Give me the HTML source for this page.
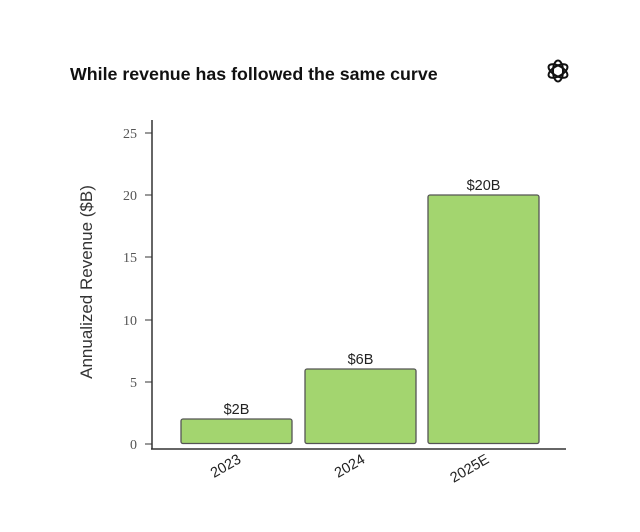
<!DOCTYPE html>
<html><head><meta charset="utf-8"><style>
html,body{margin:0;padding:0;background:#fff;}
</style></head><body>
<svg width="640" height="527" xmlns="http://www.w3.org/2000/svg">
<rect width="640" height="527" fill="#fff"/>
<text x="70" y="80" font-family="Liberation Sans, sans-serif" font-weight="bold" font-size="17.8" fill="#111">While revenue has followed the same curve</text>
<g transform="translate(558,71)" fill="none" stroke="#111" stroke-width="2">
<ellipse rx="5" ry="10.5" transform="rotate(0)"/>
<ellipse rx="5" ry="10.5" transform="rotate(60)"/>
<ellipse rx="5" ry="10.5" transform="rotate(120)"/>
</g>
<g stroke="#333" stroke-width="1.5">
<line x1="152" y1="120" x2="152" y2="449"/>
<line x1="151" y1="449" x2="566" y2="449"/>
</g>
<g stroke="#333" stroke-width="1">
<line x1="145" y1="133" x2="152" y2="133"/>
<line x1="145" y1="195" x2="152" y2="195"/>
<line x1="145" y1="257" x2="152" y2="257"/>
<line x1="145" y1="320" x2="152" y2="320"/>
<line x1="145" y1="382" x2="152" y2="382"/>
<line x1="145" y1="444" x2="152" y2="444"/>
</g>
<g font-family="Liberation Serif, serif" font-size="14" fill="#555" text-anchor="end">
<text x="137" y="138">25</text>
<text x="137" y="200">20</text>
<text x="137" y="262">15</text>
<text x="137" y="325">10</text>
<text x="137" y="387">5</text>
<text x="137" y="449">0</text>
</g>
<text transform="translate(92,282) rotate(-90)" text-anchor="middle" font-family="Liberation Sans, sans-serif" font-size="17" fill="#333">Annualized Revenue ($B)</text>
<g fill="#a3d56f" stroke="#555" stroke-width="1.3">
<rect x="181" y="419" width="111" height="24.5" rx="2"/>
<rect x="305" y="369" width="111" height="74.5" rx="2"/>
<rect x="428" y="195" width="111" height="248.5" rx="2"/>
</g>
<g font-family="Liberation Sans, sans-serif" font-size="14.5" fill="#222" text-anchor="middle">
<text x="236.5" y="414">$2B</text>
<text x="360.5" y="364">$6B</text>
<text x="483.5" y="190">$20B</text>
</g>
<g font-family="Liberation Sans, sans-serif" font-size="14.5" fill="#222" text-anchor="end">
<text transform="translate(242,462) rotate(-30)">2023</text>
<text transform="translate(366,462) rotate(-30)">2024</text>
<text transform="translate(490,462) rotate(-30)">2025E</text>
</g>
</svg>
</body></html>
